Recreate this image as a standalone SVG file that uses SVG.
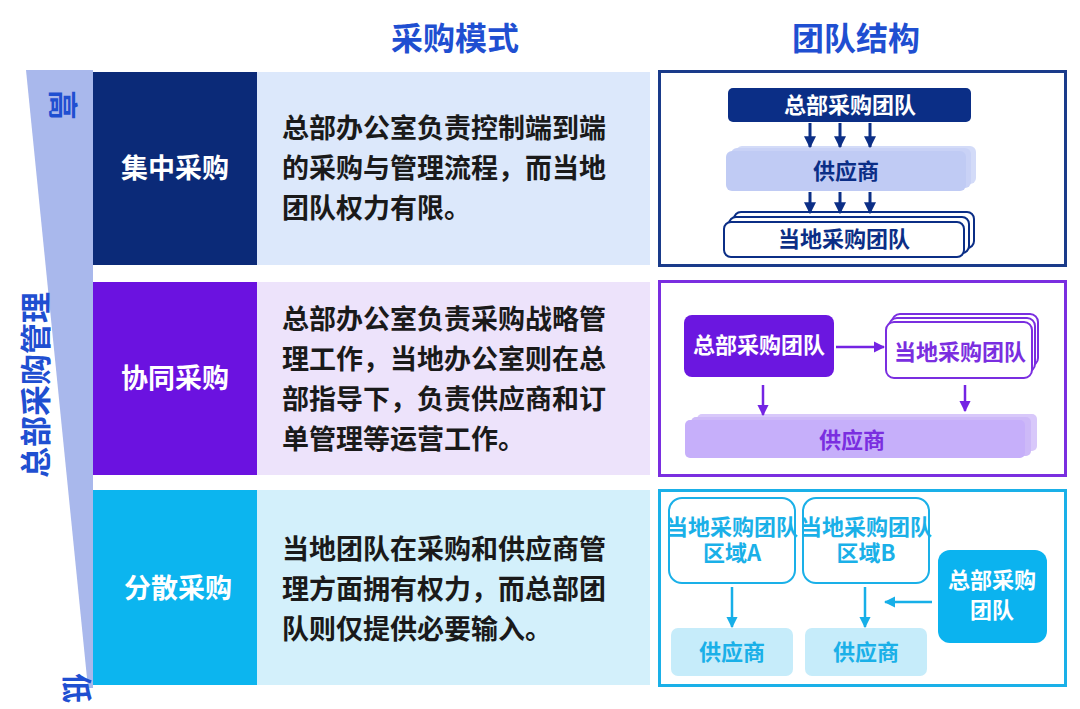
<svg xmlns="http://www.w3.org/2000/svg" width="1080" height="709" viewBox="0 0 1080 709">
<defs>
<style>
text{font-family:"Noto Sans CJK SC","Liberation Sans",sans-serif;font-weight:bold}
.hd{font-size:32px;fill:#1f4fd1;text-anchor:middle}
.lb{font-size:27px;fill:#fff;text-anchor:middle}
.ds{font-size:27px;fill:#1a1a1a}
.n{font-size:22px;text-anchor:middle}
</style>
<marker id="a1" viewBox="0 0 10 10" refX="9" refY="5" markerWidth="4" markerHeight="4" orient="auto"><path d="M0,0L10,5L0,10z" fill="#0b2e86"/></marker>
<marker id="a2" viewBox="0 0 10 10" refX="9" refY="5" markerWidth="4.5" markerHeight="4.5" orient="auto"><path d="M0,0L10,5L0,10z" fill="#7424e3"/></marker>
<marker id="a3" viewBox="0 0 10 10" refX="9" refY="5" markerWidth="4.5" markerHeight="4.5" orient="auto"><path d="M0,0L10,5L0,10z" fill="#17afe8"/></marker>
</defs>
<rect width="1080" height="709" fill="#fff"/>
<text class="hd" x="455" y="50">采购模式</text>
<text class="hd" x="856" y="50">团队结构</text>
<g id="axis">
<polygon points="26,70 93,70 93,688 88,688" fill="#a9b8ec"/>
<text x="62" y="105" font-size="30" fill="#1f4fd1" text-anchor="middle" transform="rotate(90 62 105)" dy="10">高</text>
<text x="36" y="385" font-size="31" fill="#1f4fd1" text-anchor="middle" transform="rotate(-90 36 385)" dy="11">总部采购管理</text>
<text x="76" y="688" font-size="30" fill="#1f4fd1" text-anchor="middle" transform="rotate(90 76 688)" dy="10">低</text>
</g>
<g id="row1">
<rect x="93" y="72" width="164" height="193" fill="#0b2a78"/>
<rect x="257" y="72" width="393" height="193" fill="#dce8fb"/>
<text class="lb" x="175" y="178">集中采购</text>
<text class="ds" x="282" y="138">总部办公室负责控制端到端</text>
<text class="ds" x="282" y="178">的采购与管理流程，而当地</text>
<text class="ds" x="282" y="218">团队权力有限。</text>
</g>
<g id="row2">
<rect x="93" y="282" width="164" height="193" fill="#6b12e0"/>
<rect x="257" y="282" width="393" height="193" fill="#ede3fb"/>
<text class="lb" x="175" y="388">协同采购</text>
<text class="ds" x="282" y="329">总部办公室负责采购战略管</text>
<text class="ds" x="282" y="369">理工作，当地办公室则在总</text>
<text class="ds" x="282" y="409">部指导下，负责供应商和订</text>
<text class="ds" x="282" y="449">单管理等运营工作。</text>
</g>
<g id="row3">
<rect x="93" y="490" width="164" height="195" fill="#0cb5ef"/>
<rect x="257" y="490" width="393" height="195" fill="#d3f0fb"/>
<text class="lb" x="178" y="598">分散采购</text>
<text class="ds" x="282" y="559">当地团队在采购和供应商管</text>
<text class="ds" x="282" y="599">理方面拥有权力，而总部团</text>
<text class="ds" x="282" y="639">队则仅提供必要输入。</text>
</g>
<g id="s1">
<rect x="659.5" y="71.5" width="406" height="194" fill="#fff" stroke="#1a3b8a" stroke-width="3"/>
<rect x="728" y="88" width="243" height="34" rx="5" fill="#0b2e86"/>
<text class="n" x="850" y="113" fill="#fff">总部采购团队</text>
<rect x="736" y="146" width="240" height="38" rx="6" fill="#d3dbf8"/>
<rect x="731" y="148" width="240" height="40" rx="6" fill="#c9d2f6"/>
<rect x="726" y="151" width="240" height="40" rx="6" fill="#c0cbf4"/>
<text class="n" x="846" y="179" fill="#0b2e86">供应商</text>
<rect x="734" y="212" width="240" height="36" rx="7" fill="#fff" stroke="#0b2e86" stroke-width="2"/>
<rect x="729" y="217" width="240" height="36" rx="7" fill="#fff" stroke="#0b2e86" stroke-width="2"/>
<rect x="724" y="222" width="240" height="35" rx="7" fill="#fff" stroke="#0b2e86" stroke-width="2"/>
<text class="n" x="844" y="247" fill="#0b2e86">当地采购团队</text>
</g>
<g id="s2">
<rect x="659.5" y="281.5" width="406" height="194" fill="#fff" stroke="#7a2ee0" stroke-width="3"/>
<rect x="684" y="315" width="150" height="62" rx="8" fill="#6b17e0"/>
<text class="n" x="759" y="353" fill="#fff">总部采购团队</text>
<rect x="892" y="314" width="146" height="52" rx="8" fill="#fff" stroke="#7a2ee0" stroke-width="2"/>
<rect x="889" y="318" width="146" height="54" rx="8" fill="#fff" stroke="#7a2ee0" stroke-width="2"/>
<rect x="886" y="322" width="146" height="56" rx="8" fill="#fff" stroke="#7a2ee0" stroke-width="2"/>
<text class="n" x="960" y="360" fill="#7a2ee0">当地采购团队</text>
<rect x="697" y="414" width="340" height="37" rx="5" fill="#d8c8fa"/>
<rect x="691" y="417" width="340" height="39" rx="5" fill="#cdb9f8"/>
<rect x="685" y="420" width="340" height="38" rx="5" fill="#c6affa"/>
<text class="n" x="852" y="448" font-size="24" fill="#7a2ee0">供应商</text>
</g>
<g id="s3">
<rect x="659.5" y="490.5" width="406" height="195" fill="#fff" stroke="#1ab0e8" stroke-width="3"/>
<rect x="669" y="498" width="126" height="85" rx="13" fill="#fff" stroke="#1ab0e8" stroke-width="2"/>
<text class="n" x="732" y="535" font-size="18" fill="#1ab0e8">当地采购团队</text>
<text class="n" x="732" y="561" font-size="18" fill="#1ab0e8">区域A</text>
<rect x="803" y="498" width="126" height="85" rx="13" fill="#fff" stroke="#1ab0e8" stroke-width="2"/>
<text class="n" x="866" y="535" font-size="18" fill="#1ab0e8">当地采购团队</text>
<text class="n" x="866" y="561" font-size="18" fill="#1ab0e8">区域B</text>
<rect x="938" y="550" width="109" height="93" rx="12" fill="#0bb3ef"/>
<text class="n" x="992" y="588" font-size="21" fill="#fff">总部采购</text>
<text class="n" x="992" y="618" font-size="21" fill="#fff">团队</text>
<rect x="671" y="628" width="122" height="48" rx="7" fill="#c6ecfa"/>
<text class="n" x="732" y="660" fill="#1ab0e8">供应商</text>
<rect x="805" y="628" width="122" height="48" rx="7" fill="#c6ecfa"/>
<text class="n" x="866" y="660" fill="#1ab0e8">供应商</text>
</g>
<g id="connectors" stroke-width="3">
<g stroke="#0b2e86" marker-end="url(#a1)">
<line x1="810" y1="123" x2="810" y2="147"/><line x1="840" y1="123" x2="840" y2="147"/><line x1="870" y1="123" x2="870" y2="147"/>
<line x1="810" y1="192" x2="810" y2="213"/><line x1="840" y1="192" x2="840" y2="213"/><line x1="870" y1="192" x2="870" y2="213"/>
</g>
<g stroke="#7424e3" stroke-width="2.5" marker-end="url(#a2)">
<line x1="836" y1="347" x2="884" y2="347"/>
<line x1="763" y1="385" x2="763" y2="415"/>
<line x1="965" y1="385" x2="965" y2="411"/>
</g>
<g stroke="#17afe8" stroke-width="2.5" marker-end="url(#a3)">
<line x1="732" y1="587" x2="732" y2="627"/>
<line x1="865" y1="587" x2="865" y2="627"/>
<line x1="932" y1="602" x2="885" y2="602"/>
</g>
</g>
</svg>
